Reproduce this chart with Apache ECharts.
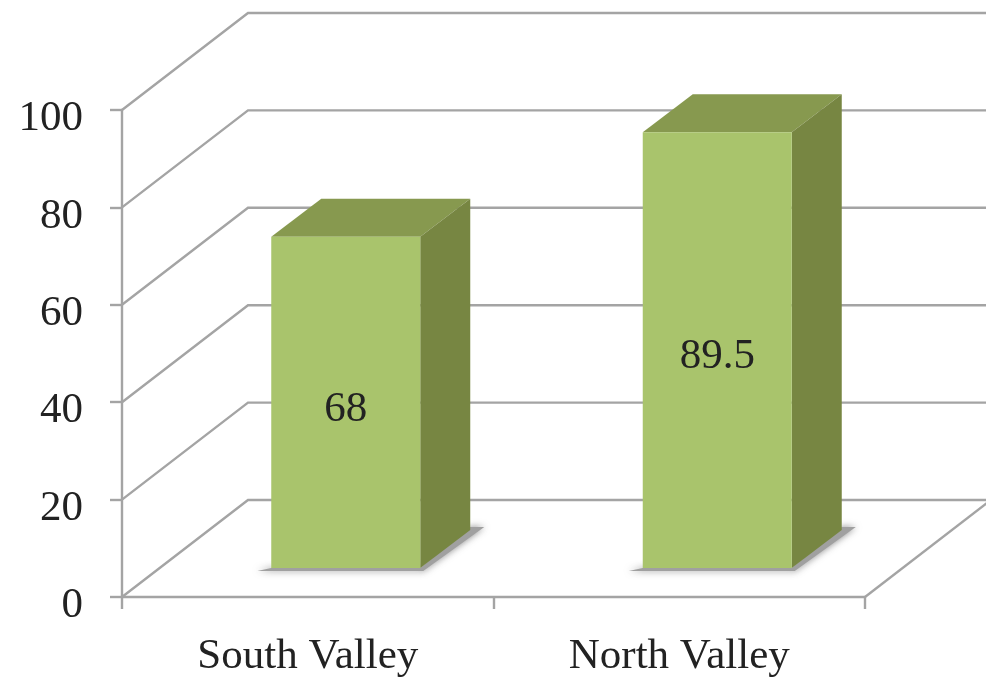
<!DOCTYPE html>
<html>
<head>
<meta charset="utf-8">
<style>
html,body{margin:0;padding:0;background:#fff;overflow:hidden}
#chart{width:986px;height:678px;filter:blur(0.5px)}
</style>
<script src="https://cdn.jsdelivr.net/npm/echarts@6/dist/echarts.min.js"></script>
</head>
<body>
<div id="chart"></div>
<script>
const categories = ['South Valley', 'North Valley'];
const barValues = [68, 89.5];
const wallTicks = [0, 20, 40, 60, 80, 100];

const fontFamily = '"Liberation Serif", serif';
const lineColor = '#a4a4a4';
const WALL = [126, -97];        // depth of the whole chart floor
const BASE = [38, -29];         // where a bar's front face stands on the floor
const DEPTH = [50, -38];        // depth of a bar
const BAR_W = 149;

const chart = echarts.init(document.getElementById('chart'), null, {renderer: 'canvas'});

function renderWall(params, api) {
  const cs = params.coordSys;
  const v = api.value(1);
  const y = api.coord([0, v])[1];
  const x0 = cs.x, x1 = cs.x + cs.width;
  const children = [{
    type: 'polyline',
    shape: {points: [[x0, y], [x0 + WALL[0], y + WALL[1]], [x1 + WALL[0], y + WALL[1]]]},
    style: {stroke: lineColor, lineWidth: 2.4, fill: null}
  }];
  if (v === 0) {
    children.push({
      type: 'line',
      shape: {x1: x1, y1: y, x2: x1 + WALL[0], y2: y + WALL[1]},
      style: {stroke: lineColor, lineWidth: 2.4}
    });
  }
  return {type: 'group', children};
}

function renderBar(params, api) {
  const c = api.coord([api.value(0), api.value(1)]);
  const z = api.coord([api.value(0), 0]);
  const l = c[0] + BASE[0] - BAR_W / 2;
  const r = l + BAR_W;
  const t = c[1] + BASE[1];
  const b = z[1] + BASE[1];
  const dx = DEPTH[0], dy = DEPTH[1];
  return {
    type: 'group',
    children: [
      {
        type: 'polygon',
        shape: {points: [[l - 14, b + 3], [r + 3, b + 3], [r + 64, b + dy - 3], [r + dx, b + dy - 3], [r, b], [l, b]]},
        style: {fill: '#a0a0a0', shadowBlur: 7, shadowColor: 'rgba(120,120,120,0.9)'}
      },
      {
        type: 'polygon',
        shape: {points: [[l, t], [l + dx, t + dy], [r + dx, t + dy], [r, t]]},
        style: {fill: '#87994f'}
      },
      {
        type: 'polygon',
        shape: {points: [[r, t], [r + dx, t + dy], [r + dx, b + dy], [r, b]]},
        style: {fill: '#778642'}
      },
      {
        type: 'rect',
        shape: {x: l, y: t, width: BAR_W, height: b - t},
        style: {fill: '#a9c46c'}
      },
      {
        type: 'text',
        style: {
          x: (l + r) / 2,
          y: (t + b) / 2 + 7,
          text: String(api.value(1)),
          fill: '#222',
          font: '43px ' + fontFamily,
          align: 'center',
          verticalAlign: 'middle'
        }
      }
    ]
  };
}

chart.setOption({
  animation: false,
  backgroundColor: '#fff',
  grid: {left: 122, top: 110, width: 743, height: 488, containLabel: false},
  xAxis: {
    type: 'category',
    data: categories,
    axisLine: {show: true, lineStyle: {color: lineColor, width: 2.4}},
    axisTick: {show: true, length: 12, lineStyle: {color: lineColor, width: 2.4}},
    axisLabel: {color: '#222', fontFamily, fontSize: 43, margin: 38},
    splitLine: {show: false}
  },
  yAxis: {
    type: 'value',
    min: 0, max: 100, interval: 20,
    axisLine: {show: true, lineStyle: {color: lineColor, width: 2.4}},
    axisTick: {show: true, length: 12, lineStyle: {color: lineColor, width: 2.4}},
    axisLabel: {color: '#222', fontFamily, fontSize: 43, margin: 39, verticalAlign: 'top', lineHeight: 18},
    splitLine: {show: false}
  },
  series: [
    {
      type: 'custom',
      z: 1,
      renderItem: renderWall,
      encode: {x: 0, y: 1},
      data: wallTicks.map(v => [0, v]),
      silent: true
    },
    {
      type: 'custom',
      z: 3,
      renderItem: renderBar,
      encode: {x: 0, y: 1},
      data: barValues.map((v, i) => [i, v]),
      silent: true
    }
  ]
});
</script>
</body>
</html>
